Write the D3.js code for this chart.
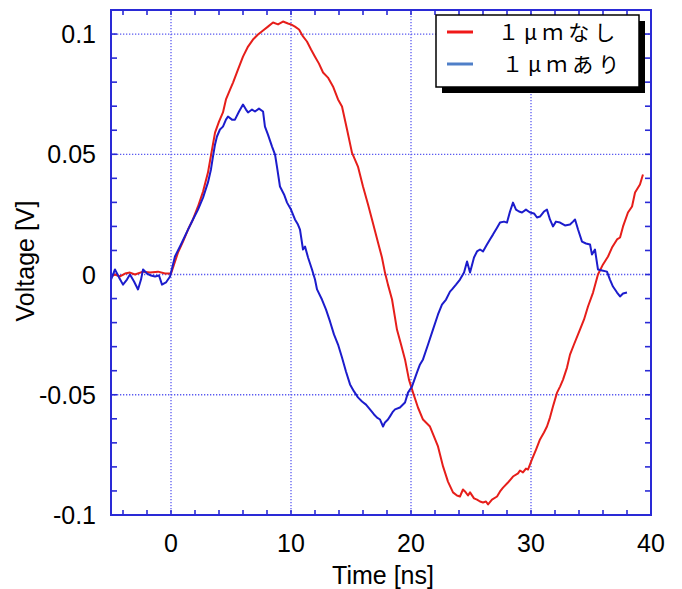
<!DOCTYPE html>
<html lang="ja">
<head>
<meta charset="UTF-8">
<title>Voltage vs Time</title>
<script src="https://d3js.org/d3.v7.min.js"></script>
<style>
  body { margin: 0; background: #fff; }
  svg { display: block; }
  .lbl { font-family: "Liberation Sans", Arial, sans-serif; font-size: 25px; fill: #000; }
  .leg { font-family: "Noto Sans CJK JP", sans-serif; font-size: 21px; fill: #000; letter-spacing: 5px; }
</style>
</head>
<body>
<svg id="chart" width="682" height="589"></svg>
<script>
// data
const redTime = [-5, -4.67, -4.25, -3.83, -3.42, -3, -2.33, -1.75, -1.08, -0.5, 0, 0.58, 1, 1.42, 1.83, 2.25, 2.67, 3.08, 3.42, 3.67, 4, 4.33, 4.58, 4.92, 5.17, 5.58, 6, 6.42, 6.83, 7.25, 7.67, 8.08, 8.5, 8.92, 9.33, 9.75, 10, 10.33, 10.67, 11, 11.33, 11.67, 12, 12.33, 12.67, 13.08, 13.5, 13.92, 14.25, 14.67, 15.08, 15.58, 16, 16.42, 16.75, 17.25, 17.58, 17.83, 18.08, 18.42, 18.83, 19.17, 19.5, 19.83, 20.17, 20.58, 21, 21.58, 21.92, 22.25, 22.67, 23.08, 23.5, 23.83, 24.08, 24.33, 24.5, 24.75, 24.92, 25.25, 25.5, 25.75, 26, 26.25, 26.42, 26.75, 27.17, 27.42, 27.67, 28.08, 28.5, 28.92, 29.08, 29.33, 29.58, 29.75, 30.08, 30.42, 30.75, 31.08, 31.33, 31.58, 31.83, 32.17, 32.42, 32.67, 33, 33.25, 33.58, 34.08, 34.42, 34.75, 35.17, 35.58, 36, 36.42, 36.75, 37.17, 37.42, 37.67, 38.08, 38.42, 38.67, 39.08, 39.33];
const redVolt = [-0.0008, 0, -0.0008, 0.0004, 0.0008, 0, 0.0012, 0.0008, 0.0012, 0.0004, 0.0004, 0.0091, 0.0137, 0.0187, 0.0229, 0.0283, 0.0345, 0.0424, 0.052, 0.059, 0.0636, 0.0674, 0.0728, 0.0769, 0.0798, 0.0852, 0.0906, 0.0948, 0.0977, 0.0998, 0.1015, 0.1031, 0.1048, 0.104, 0.1052, 0.1044, 0.104, 0.1031, 0.1019, 0.099, 0.0969, 0.0936, 0.0906, 0.0877, 0.084, 0.0819, 0.0782, 0.0728, 0.0699, 0.0603, 0.0507, 0.0449, 0.0366, 0.0291, 0.0229, 0.0133, 0.0071, 0.0008, -0.0042, -0.0104, -0.0229, -0.0291, -0.0353, -0.0437, -0.0491, -0.0553, -0.0603, -0.0632, -0.0674, -0.0715, -0.0798, -0.0861, -0.0906, -0.0919, -0.0923, -0.0894, -0.0902, -0.0919, -0.0906, -0.0931, -0.0936, -0.0944, -0.0948, -0.0944, -0.0956, -0.0936, -0.0923, -0.0902, -0.0886, -0.0865, -0.084, -0.0827, -0.0815, -0.0823, -0.0807, -0.0811, -0.0769, -0.0728, -0.0686, -0.0657, -0.0632, -0.0595, -0.0549, -0.0491, -0.0466, -0.0437, -0.0387, -0.0333, -0.0291, -0.0229, -0.0187, -0.0133, -0.0075, 0, 0.0042, 0.0075, 0.0112, 0.0146, 0.0154, 0.02, 0.0258, 0.0283, 0.0341, 0.0374, 0.0416];

const blueTime = [-5, -4.83, -4.67, -4.33, -4, -3.67, -3.42, -3.08, -2.75, -2.5, -2.33, -2, -1.67, -1.33, -1, -0.75, -0.42, -0.08, 0.33, 0.83, 1.42, 1.83, 2.25, 2.67, 3.08, 3.33, 3.5, 3.67, 3.83, 4.08, 4.33, 4.58, 4.75, 5.08, 5.33, 5.67, 6, 6.25, 6.42, 6.75, 7, 7.33, 7.67, 7.83, 8.08, 8.42, 8.67, 8.83, 9.08, 9.42, 9.67, 10, 10.33, 10.58, 10.75, 11, 11.17, 11.42, 11.75, 12, 12.17, 12.58, 12.92, 13.25, 13.58, 13.92, 14.25, 14.58, 14.92, 15.25, 15.58, 15.92, 16.25, 16.58, 16.92, 17.17, 17.42, 17.67, 17.83, 18.08, 18.25, 18.5, 18.67, 19.08, 19.5, 19.75, 20.08, 20.5, 20.75, 21, 21.42, 21.83, 22.25, 22.58, 22.92, 23.25, 23.42, 23.75, 24.08, 24.42, 24.67, 24.92, 25.25, 25.5, 25.75, 26, 26.33, 26.58, 26.83, 27.17, 27.42, 27.75, 28, 28.25, 28.5, 28.75, 29, 29.25, 29.58, 29.92, 30.25, 30.5, 30.75, 31.08, 31.33, 31.58, 31.83, 32.08, 32.42, 32.83, 33.25, 33.5, 33.67, 33.92, 34.25, 34.58, 34.92, 35.08, 35.33, 35.58, 35.92, 36.33, 36.58, 36.83, 37.17, 37.42, 37.67, 38];
const blueVolt = [-0.0021, 0, 0.0021, -0.0012, -0.0042, -0.0021, 0, -0.0029, -0.0062, -0.0021, 0.0021, 0.0004, -0.0004, -0.0008, -0.0004, -0.0042, -0.0033, -0.0008, 0.0075, 0.0125, 0.0187, 0.0229, 0.027, 0.032, 0.0383, 0.0437, 0.0491, 0.0541, 0.0574, 0.0603, 0.0615, 0.0644, 0.0657, 0.0644, 0.0644, 0.0678, 0.0707, 0.0686, 0.0674, 0.0686, 0.0678, 0.069, 0.0678, 0.0615, 0.0582, 0.0532, 0.0499, 0.0449, 0.0366, 0.0333, 0.0299, 0.027, 0.0229, 0.0208, 0.0187, 0.0104, 0.0116, 0.0071, 0.0021, -0.0021, -0.0062, -0.0104, -0.0146, -0.0195, -0.0249, -0.0291, -0.0345, -0.0403, -0.0457, -0.0486, -0.0511, -0.0528, -0.0541, -0.0561, -0.0582, -0.0595, -0.0603, -0.0632, -0.0615, -0.0603, -0.059, -0.057, -0.0561, -0.0553, -0.0532, -0.0491, -0.0466, -0.0407, -0.0374, -0.0353, -0.0291, -0.0229, -0.0166, -0.0125, -0.0104, -0.0071, -0.0062, -0.0042, -0.0021, 0.0008, 0.0054, 0.0008, 0.0071, 0.0096, 0.0104, 0.0096, 0.0125, 0.0146, 0.0166, 0.0195, 0.0216, 0.022, 0.0216, 0.0262, 0.0299, 0.027, 0.0262, 0.0258, 0.027, 0.0258, 0.0254, 0.0237, 0.0241, 0.0262, 0.027, 0.0229, 0.02, 0.022, 0.0216, 0.0204, 0.0208, 0.022, 0.0229, 0.0187, 0.0137, 0.0129, 0.0125, 0.0083, 0.0104, 0.0021, 0.0017, 0.0012, -0.0021, -0.005, -0.0075, -0.0091, -0.0079, -0.0075];

const xTickValues = [0, 10, 20, 30, 40];
const xTickLabels = ["0", "10", "20", "30", "40"];
const yTickValues = [0.1, 0.05, 0, -0.05, -0.1];
const yTickLabels = ["0.1", "0.05", "0", "-0.05", "-0.1"];
const seriesNames = ["１μｍなし", "１μｍあり"];
const seriesColors = ["#e61e1a", "#1c1ccc"];
const legendColors = ["#f01818", "#4f7fc8"];

const frameColor = "#2a2ad6";
const gridColor = "#5a5af0";

const svg = d3.select("#chart");
const plot = { left: 111, right: 651, top: 10, bottom: 515 };

const x = d3.scaleLinear().domain([-5, 40]).range([plot.left, plot.right]);
const y = d3.scaleLinear().domain([-0.1, 0.11]).range([plot.bottom, plot.top]);

// grid (dotted)
const grid = svg.append("g");
grid.selectAll(".gx")
    .data(xTickValues.filter(d => d > -5 && d < 40))
    .enter().append("line")
    .attr("x1", d => x(d)).attr("x2", d => x(d))
    .attr("y1", plot.top).attr("y2", plot.bottom)
    .attr("stroke", gridColor).attr("stroke-width", 1.3)
    .attr("stroke-dasharray", "1.3,1.7");
grid.selectAll(".gy")
    .data(yTickValues.filter(d => d > -0.1))
    .enter().append("line")
    .attr("x1", plot.left).attr("x2", plot.right)
    .attr("y1", d => y(d)).attr("y2", d => y(d))
    .attr("stroke", gridColor).attr("stroke-width", 1.3)
    .attr("stroke-dasharray", "1.3,1.7");

// minor ticks, inward on all four sides
const xMinor = d3.range(-4, 40, 2);
const yMinor = d3.range(-9, 11, 1).map(d => d / 100);
const ticks = svg.append("g").attr("stroke", frameColor).attr("stroke-width", 1.6);
xMinor.forEach(v => {
    ticks.append("line").attr("x1", x(v)).attr("x2", x(v)).attr("y1", plot.bottom).attr("y2", plot.bottom - 5);
    ticks.append("line").attr("x1", x(v)).attr("x2", x(v)).attr("y1", plot.top).attr("y2", plot.top + 5);
});
yMinor.forEach(v => {
    ticks.append("line").attr("x1", plot.left).attr("x2", plot.left + 6).attr("y1", y(v)).attr("y2", y(v));
    ticks.append("line").attr("x1", plot.right).attr("x2", plot.right - 6).attr("y1", y(v)).attr("y2", y(v));
});

// curves
const line = d3.line().x(d => x(d[0])).y(d => y(d[1]));
const redData = d3.zip(redTime, redVolt);
const blueData = d3.zip(blueTime, blueVolt);

svg.append("path").datum(redData)
    .attr("fill", "none").attr("stroke", seriesColors[0])
    .attr("stroke-width", 2).attr("stroke-linejoin", "round")
    .attr("d", line);
svg.append("path").datum(blueData)
    .attr("fill", "none").attr("stroke", seriesColors[1])
    .attr("stroke-width", 2).attr("stroke-linejoin", "round")
    .attr("d", line);

// frame
svg.append("rect")
    .attr("x", plot.left).attr("y", plot.top)
    .attr("width", plot.right - plot.left).attr("height", plot.bottom - plot.top)
    .attr("fill", "none").attr("stroke", frameColor).attr("stroke-width", 2);

// tick labels
svg.selectAll(".xl")
    .data(xTickValues)
    .enter().append("text")
    .attr("class", "lbl")
    .attr("x", d => x(d)).attr("y", 552)
    .attr("text-anchor", "middle")
    .text((d, i) => xTickLabels[i]);

svg.selectAll(".yl")
    .data(yTickValues)
    .enter().append("text")
    .attr("class", "lbl")
    .attr("x", 96).attr("y", d => y(d)).attr("dy", "0.36em")
    .attr("text-anchor", "end")
    .text((d, i) => yTickLabels[i]);

// axis titles
svg.append("text").attr("class", "lbl")
    .attr("x", 383).attr("y", 584)
    .attr("text-anchor", "middle")
    .text("Time [ns]");
svg.append("text").attr("class", "lbl")
    .attr("transform", "translate(34,261) rotate(-90)")
    .attr("text-anchor", "middle")
    .text("Voltage [V]");

// legend
const leg = svg.append("g");
leg.append("rect").attr("x", 442).attr("y", 21).attr("width", 203).attr("height", 72).attr("fill", "#000");
leg.append("rect").attr("x", 436).attr("y", 15).attr("width", 203).attr("height", 72)
    .attr("fill", "#fff").attr("stroke", "#000").attr("stroke-width", 1.5);
seriesNames.forEach((name, i) => {
    const cy = 32 + i * 32;
    leg.append("line")
        .attr("x1", 447).attr("x2", 473).attr("y1", cy).attr("y2", cy)
        .attr("stroke", legendColors[i]).attr("stroke-width", 3);
    leg.append("text").attr("class", "leg")
        .attr("x", 498 + i * 4).attr("y", cy).attr("dy", "0.36em")
        .text(name);
});
</script>
</body>
</html>
